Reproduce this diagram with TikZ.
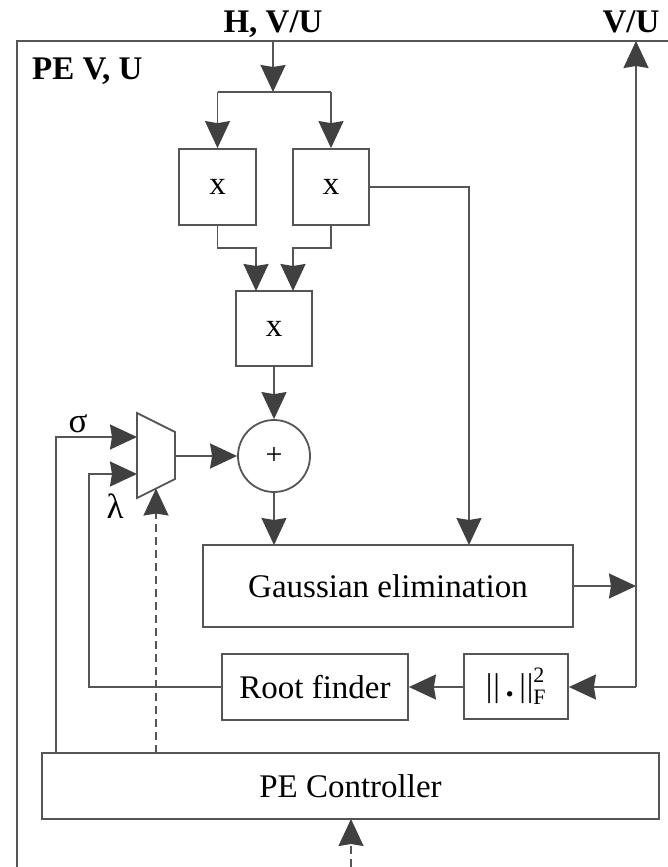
\documentclass[tikz,border=0pt]{standalone}
\usepackage{fontspec}
\setmainfont{Liberation Serif}
\usetikzlibrary{arrows.meta}
\definecolor{ln}{HTML}{555555}
\definecolor{ah}{HTML}{404040}
\tikzset{
  conn/.style={draw=ln, line width=1.8pt, -{Stealth[length=27pt,width=25pt,inset=2pt,color=ah]}},
  plain/.style={draw=ln, line width=1.8pt},
  dconn/.style={conn, dash pattern=on 8pt off 5pt},
  blk/.style={draw=ln, line width=1.8pt, inner sep=0pt, font=\fontsize{33}{36}\selectfont},
  lbl/.style={inner sep=0pt, font=\fontsize{33}{36}\selectfont\bfseries},
}
\begin{document}
\begin{tikzpicture}[x=1pt,y=-1pt]
\useasboundingbox (0,0) rectangle (668,867);
% frame
\draw[plain] (17,867) -- (17,41) -- (670,41);
\node[lbl, anchor=base] (hin) at (273,33) {H, V/U};
\node[lbl, anchor=base] (vout) at (631,33) {V/U};
\node[lbl, anchor=base west] (pe) at (32,80) {PE V, U};
% blocks
\node[blk, minimum width=77pt, minimum height=76pt] (m1) at (217.5,187) {x};
\node[blk, minimum width=76pt, minimum height=76pt] (m2) at (331,187) {x};
\node[blk, minimum width=76pt, minimum height=75pt] (m3) at (274,328.5) {x};
\node[blk, circle, minimum size=72pt, font=\fontsize{30}{30}\selectfont] (add) at (274,456) {+};
\node[blk, minimum width=370pt, minimum height=82pt] (gauss) at (388,586) {Gaussian elimination};
\node[blk, minimum width=186pt, minimum height=66pt] (root) at (315,687) {Root finder};
\node[blk, minimum width=104pt, minimum height=65pt] (norm) at (516,686.5)
  {$\mbox{|\kern1pt|\,\textbf{.}\,|\kern1pt|}^{\mbox{\fontsize{22}{22}\selectfont 2}}_{\mbox{\fontsize{22}{22}\selectfont F}}$};
\node[blk, minimum width=617pt, minimum height=66pt] (ctrl) at (350.5,786) {PE Controller};
% mux
\coordinate (mA) at (137,413);
\coordinate (mB) at (175,432);
\coordinate (mC) at (175,479);
\coordinate (mD) at (137,498);
\draw[plain, line join=miter] (mA) -- (mB) -- (mC) -- (mD) -- cycle;
\coordinate (mOut) at (175,456);
\coordinate (mSig) at (137,437);
\coordinate (mLam) at (137,474);
\coordinate (mSel) at (156,488.5);
\node[inner sep=0pt, font=\fontsize{35}{36}\selectfont] (sig) at (78,424) {σ};
\node[inner sep=0pt, font=\fontsize{35}{36}\selectfont] (lam) at (115,506) {λ};
% input split
\coordinate (split) at (273,92);
\coordinate (sL) at (217.5,92);
\coordinate (sR) at (331,92);
\draw[conn] (273,41) -- (split);
\draw[plain] (sL) -- (sR);
\draw[conn] (sL) -- (m1.north);
\draw[conn] (sR) -- (m2.north);
% multipliers to m3
\draw[conn] (m1.south) -- (217.5,248) -| (256,291);
\draw[conn] (m2.south) -- (331,248) -| (293,291);
\draw[conn] (m2.east |- 0,187) -| (469,545);
\draw[conn] (m3.south) -- (add.north);
\draw[conn] (mOut) -- (add.west);
\draw[conn] (add.south) -- (274,545);
% Gaussian output
\coordinate (vr) at (636,586);
\draw[conn] (gauss.east |- vr) -- (vr);
\draw[conn] (636,687) -- (636,41);
\draw[conn] (636,687) -- (norm.east |- 0,687);
\draw[conn] (norm.west |- 0,687) -- (root.east |- 0,687);
% lambda feedback
\draw[conn] (root.west) -- (89,687) |- (mLam);
% sigma from controller
\draw[conn] (56,753) |- (mSig);
% select
\draw[dconn] (156,753) -- (mSel);
\draw[dconn] (351,867) -- (351,819);
\end{tikzpicture}
\end{document}
